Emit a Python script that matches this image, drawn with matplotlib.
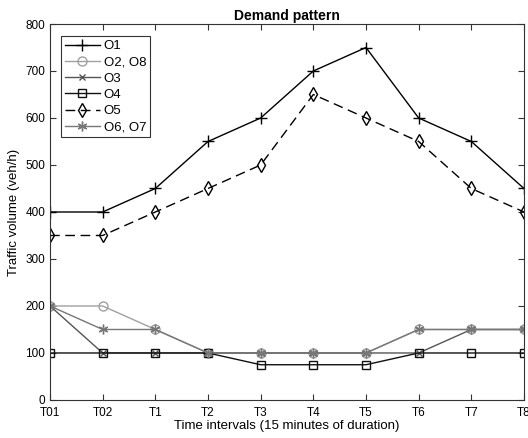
import numpy as np
import matplotlib
matplotlib.use('Agg')
import matplotlib.pyplot as plt

plt.rcParams['font.family'] = ['Liberation Sans', 'DejaVu Sans']

labels = ['T01', 'T02', 'T1', 'T2', 'T3', 'T4', 'T5', 'T6', 'T7', 'T8']

o1 = [400, 400, 450, 550, 600, 700, 750, 600, 550, 450]
o2_o8 = [200, 200, 150, 100, 100, 100, 100, 150, 150, 150]
o3 = [200, 100, 100, 100, 100, 100, 100, 100, 150, 150]
o4 = [100, 100, 100, 100, 75, 75, 75, 100, 100, 100]
o5 = [350, 350, 400, 450, 500, 650, 600, 550, 450, 400]
o6_o7 = [200, 150, 150, 100, 100, 100, 100, 150, 150, 150]

x = np.arange(len(labels))

fig = plt.figure(figsize=(5.28, 4.38), dpi=100)
ax = fig.add_axes([0.0947, 0.0868, 0.8977, 0.8584])

ax.plot(x, o1, color='black', marker='+', ms=8, mew=1, lw=1, label='O1')
ax.plot(x, o2_o8, color='#a0a0a0', marker='o', ms=6.5, mfc='none', lw=1, label='O2, O8')
ax.plot(x, o3, color='#555555', marker='x', ms=5, lw=1, label='O3')
ax.plot(x, o4, color='#111111', marker='s', ms=5.5, mfc='none', lw=1, label='O4')
ax.plot(x, o5, color='black', marker='d', ms=7, mfc='none', lw=1, ls=(0, (7, 4)), label='O5')
ax.plot(x, o6_o7, color='#777777', marker=(6, 2, 0), ms=7, mew=1, lw=1, label='O6, O7')

ax.set_xlim(0, 9)
ax.set_ylim(0, 800)
ax.set_xticks(x)
ax.set_xticklabels(labels)
ax.set_yticks(np.arange(0, 801, 100))
ax.tick_params(direction='in', top=True, right=True, labelsize=8.5, length=4, color='#333333')
ax.tick_params(axis='x', pad=5)
for s in ax.spines.values():
    s.set_color('#333333')
    s.set_linewidth(0.8)

ax.set_title('Demand pattern', fontsize=10, fontweight='bold', pad=3)
ax.set_xlabel('Time intervals (15 minutes of duration)', fontsize=9.5, labelpad=1)
ax.set_ylabel('Traffic volume (veh/h)', fontsize=9.5, labelpad=4)

leg = ax.legend(loc='upper left', fontsize=9.5, frameon=True, fancybox=False,
                edgecolor='black', handlelength=2.6, labelspacing=0.3,
                borderpad=0.3, handletextpad=0.3, bbox_to_anchor=(0.01, 0.985))
leg.get_frame().set_linewidth(0.8)

fig.savefig('out.png', dpi=100)
